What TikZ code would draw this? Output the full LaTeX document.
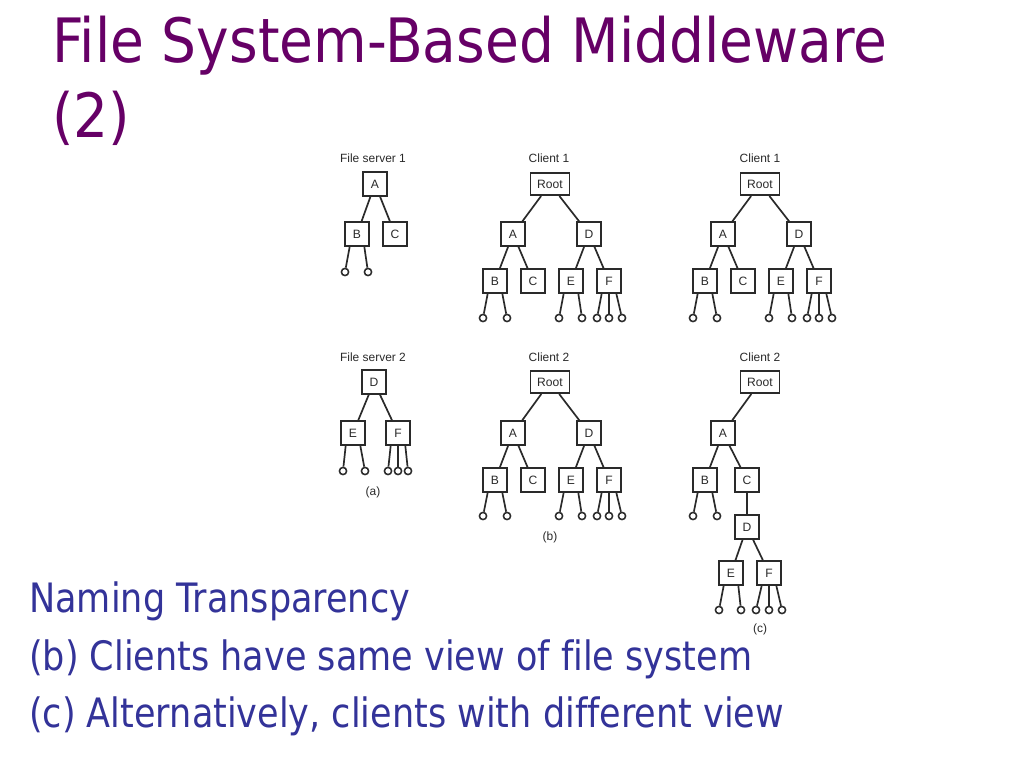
\documentclass[tikz,border=0pt]{standalone}
\usepackage{fontspec}
\setmainfont[FakeStretch=0.865, Ligatures=NoCommon]{DejaVu Sans}
\newfontfamily\headfont[FakeStretch=0.9, Ligatures=NoCommon]{DejaVu Sans}
\newfontfamily\figfont{Liberation Sans}
\usepackage{tikz}
\usetikzlibrary{positioning}

\definecolor{titlepurple}{HTML}{660066}
\definecolor{textblue}{HTML}{333399}
\definecolor{figgray}{HTML}{2A2A2A}

\begin{document}
\begin{tikzpicture}[
  x=0.025cm, y=-0.025cm,
  dir/.style={draw=figgray, line width=1.2pt, minimum size=0.59cm, inner sep=0pt,
              font=\figfont\fontsize{8.6}{9}\selectfont, text=figgray},
  rootdir/.style={dir, minimum width=0.98cm, minimum height=0.56cm},
  leaf/.style={circle, draw=figgray, line width=1.1pt, minimum size=0.18cm, inner sep=0pt},
  lbl/.style={font=\figfont\fontsize{8.5}{9}\selectfont, text=figgray, inner sep=0pt},
  link/.style={figgray, line width=1.2pt},
  headline/.style={anchor=base west, inner sep=0pt, text=titlepurple,
                   font=\headfont\fontsize{43.5}{50}\selectfont},
  bodyline/.style={anchor=base west, inner sep=0pt, text=textblue,
                   font=\fontsize{28.8}{34}\selectfont},
]
  \fill[white] (0,0) rectangle (1024,768);
  \useasboundingbox (0,0) rectangle (1024,768);

  % Title
  \node[headline] (title1) at (52,63) {File System-Based Middleware};
  \node[headline] (title2) at (52,138) {(2)};

  % ── (a) File server 1 ──
  \node[lbl] (fs1) at (373,158) {File server 1};
  \node[dir] (fs1a) at (375,184) {A};
  \node[dir] (fs1b) at (357,234) {B};
  \node[dir] (fs1c) at (395,234) {C};
  \foreach \s in {fs1b,fs1c} { \draw[link] (fs1a) -- (\s); }
  \foreach \p/\a/\x in {fs1b/-120/345, fs1b/-60/368} {
    \node[leaf] (\p-\x) at (\x,272) {};
    \draw[link] (\p.\a) -- (\p-\x);
  }

  % ── (a) File server 2 ──
  \node[lbl] (fs2) at (373,357) {File server 2};
  \node[dir] (fs2d) at (374,382) {D};
  \node[dir] (fs2e) at (353,433) {E};
  \node[dir] (fs2f) at (398,433) {F};
  \foreach \s in {fs2e,fs2f} { \draw[link] (fs2d) -- (\s); }
  \foreach \p/\a/\x in {fs2e/-120/343, fs2e/-60/365,
                        fs2f/-120/388, fs2f/-90/398, fs2f/-60/408} {
    \node[leaf] (\p-\x) at (\x,471) {};
    \draw[link] (\p.\a) -- (\p-\x);
  }
  \node[lbl] (capa) at (373,492) {(a)};

  % ── (b) Client 1 ──
  \node[lbl] (c1) at (549,158) {Client 1};
  \node[rootdir] (c1r) at (550,184) {Root};
  \node[dir] (c1a) at (513,234) {A};
  \node[dir] (c1d) at (589,234) {D};
  \node[dir] (c1b) at (495,281) {B};
  \node[dir] (c1c) at (533,281) {C};
  \node[dir] (c1e) at (571,281) {E};
  \node[dir] (c1f) at (609,281) {F};
  \foreach \p/\s in {c1r/c1a, c1r/c1d, c1a/c1b, c1a/c1c, c1d/c1e, c1d/c1f} {
    \draw[link] (\p) -- (\s);
  }
  \foreach \p/\a/\x in {c1b/-120/483, c1b/-60/507, c1e/-120/559, c1e/-60/582,
                        c1f/-120/597, c1f/-90/609, c1f/-60/622} {
    \node[leaf] (\p-\x) at (\x,318) {};
    \draw[link] (\p.\a) -- (\p-\x);
  }

  % ── (b) Client 2 ──
  \node[lbl] (c2) at (549,357) {Client 2};
  \node[rootdir] (c2r) at (550,382) {Root};
  \node[dir] (c2a) at (513,433) {A};
  \node[dir] (c2d) at (589,433) {D};
  \node[dir] (c2b) at (495,480) {B};
  \node[dir] (c2c) at (533,480) {C};
  \node[dir] (c2e) at (571,480) {E};
  \node[dir] (c2f) at (609,480) {F};
  \foreach \p/\s in {c2r/c2a, c2r/c2d, c2a/c2b, c2a/c2c, c2d/c2e, c2d/c2f} {
    \draw[link] (\p) -- (\s);
  }
  \foreach \p/\a/\x in {c2b/-120/483, c2b/-60/507, c2e/-120/559, c2e/-60/582,
                        c2f/-120/597, c2f/-90/609, c2f/-60/622} {
    \node[leaf] (\p-\x) at (\x,516) {};
    \draw[link] (\p.\a) -- (\p-\x);
  }
  \node[lbl] (capb) at (550,537) {(b)};

  % ── (c) Client 1 ──
  \node[lbl] (c3) at (760,158) {Client 1};
  \node[rootdir] (c3r) at (760,184) {Root};
  \node[dir] (c3a) at (723,234) {A};
  \node[dir] (c3d) at (799,234) {D};
  \node[dir] (c3b) at (705,281) {B};
  \node[dir] (c3c) at (743,281) {C};
  \node[dir] (c3e) at (781,281) {E};
  \node[dir] (c3f) at (819,281) {F};
  \foreach \p/\s in {c3r/c3a, c3r/c3d, c3a/c3b, c3a/c3c, c3d/c3e, c3d/c3f} {
    \draw[link] (\p) -- (\s);
  }
  \foreach \p/\a/\x in {c3b/-120/693, c3b/-60/717, c3e/-120/769, c3e/-60/792,
                        c3f/-120/807, c3f/-90/819, c3f/-60/832} {
    \node[leaf] (\p-\x) at (\x,318) {};
    \draw[link] (\p.\a) -- (\p-\x);
  }

  % ── (c) Client 2: server 2 mounted under C ──
  \node[lbl] (c4) at (760,357) {Client 2};
  \node[rootdir] (c4r) at (760,382) {Root};
  \node[dir] (c4a) at (723,433) {A};
  \node[dir] (c4b) at (705,480) {B};
  \node[dir] (c4c) at (747,480) {C};
  \node[dir] (c4d) at (747,527) {D};
  \node[dir] (c4e) at (731,573) {E};
  \node[dir] (c4f) at (769,573) {F};
  \foreach \p/\s in {c4r/c4a, c4a/c4b, c4a/c4c, c4c/c4d, c4d/c4e, c4d/c4f} {
    \draw[link] (\p) -- (\s);
  }
  \foreach \p/\a/\x in {c4b/-120/693, c4b/-60/717} {
    \node[leaf] (\p-\x) at (\x,516) {};
    \draw[link] (\p.\a) -- (\p-\x);
  }
  \foreach \p/\a/\x in {c4e/-120/719, c4e/-60/741,
                        c4f/-120/756, c4f/-90/769, c4f/-60/782} {
    \node[leaf] (\p-\x) at (\x,610) {};
    \draw[link] (\p.\a) -- (\p-\x);
  }
  \node[lbl] (capc) at (760,629) {(c)};

  % Notes
  \node[bodyline] (note1) at (29,612) {Naming Transparency};
  \node[bodyline] (note2) at (29,670) {(b) Clients have same view of file system};
  \node[bodyline] (note3) at (29,727) {(c) Alternatively, clients with different view};

\end{tikzpicture}
\end{document}
